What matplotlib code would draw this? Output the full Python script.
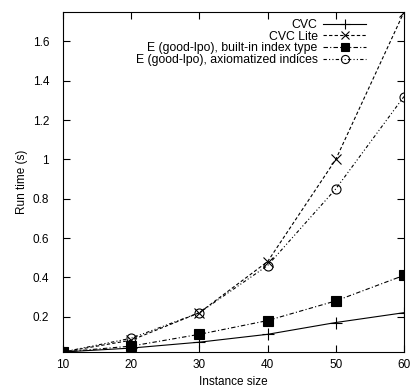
import matplotlib
matplotlib.use("Agg")
import matplotlib.pyplot as plt

plt.rcParams['font.family'] = ['Liberation Sans', 'DejaVu Sans']
plt.rcParams['font.size'] = 8.5

sizes = [10, 20, 30, 40, 50, 60]
cvc = [0.02, 0.04, 0.07, 0.11, 0.17, 0.22]
cvc_lite = [0.02, 0.08, 0.22, 0.48, 1.00, 1.75]
e_builtin = [0.02, 0.05, 0.11, 0.18, 0.28, 0.41]
e_axiom = [0.02, 0.09, 0.22, 0.46, 0.85, 1.32]

labels = ["CVC", "CVC Lite", "E (good-lpo), built-in index type",
          "E (good-lpo), axiomatized indices"]
yticks = [0.2, 0.4, 0.6, 0.8, 1.0, 1.2, 1.4, 1.6]
ytick_labels = ["0.2", "0.4", "0.6", "0.8", "1", "1.2", "1.4", "1.6"]

fig = plt.figure(figsize=(4.13, 3.88), dpi=100)
ax = fig.add_axes([63/413, 1-352/388, (404-63)/413, (352-12)/388])

lw = 0.8
ax.plot(sizes, cvc, color='black', lw=lw, ls='-', marker='+', ms=8, mew=0.8, label=labels[0])
ax.plot(sizes, cvc_lite, color='black', lw=lw, ls=(0, (3, 2)), marker='x', ms=7, mew=0.8, label=labels[1])
ax.plot(sizes, e_builtin, color='black', lw=lw, ls=(0, (4, 2, 1, 2)), marker='s', ms=6.5, mew=0.8, label=labels[2])
ax.plot(sizes, e_axiom, color='black', lw=lw, ls=(0, (3, 2, 1, 2, 1, 2)), marker='o', ms=6.5, mew=0.8,
        mfc='none', label=labels[3])

ax.set_xlim(10, 60)
ax.set_ylim(0.02, 1.75)
ax.set_xticks(sizes)
ax.set_yticks(yticks)
ax.set_yticklabels(ytick_labels)
ax.tick_params(direction='in', top=True, right=True, length=5, width=0.8)
ax.tick_params(axis='y', pad=10)
ax.tick_params(axis='x', pad=5)
ax.set_xlabel("Instance size", labelpad=3.5)
ax.set_ylabel("Run time (s)", labelpad=3.5)
for s in ax.spines.values():
    s.set_linewidth(0.8)

leg = ax.legend(loc='upper right', bbox_to_anchor=((366-63)/341, (352-19)/340),
                markerfirst=False, frameon=False, handlelength=3.5,
                labelspacing=-0.03, borderaxespad=0, borderpad=0, handletextpad=0.45,
                fontsize=8.8, markerscale=0.9)

fig.savefig("out.png", dpi=100)
